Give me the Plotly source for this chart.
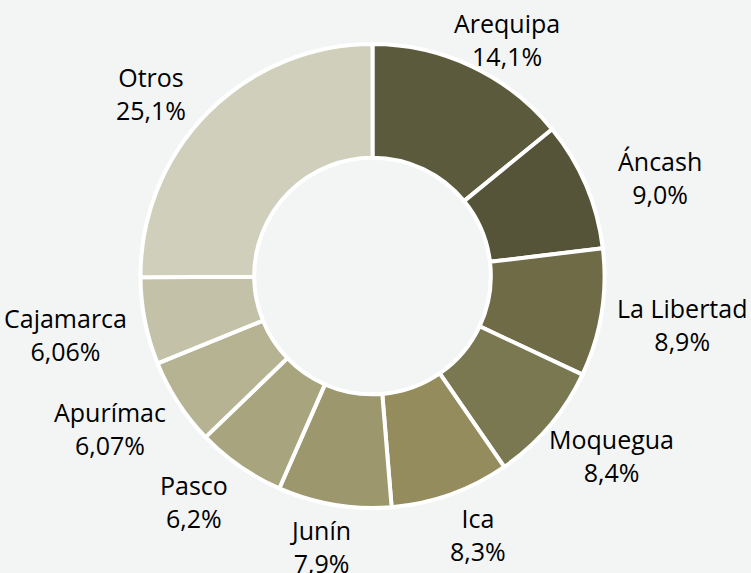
import math
import plotly.graph_objects as go

regiones = ["Arequipa", "Áncash", "La Libertad", "Moquegua", "Ica", "Junín",
            "Pasco", "Apurímac", "Cajamarca", "Otros"]
participacion = [14.1, 9.0, 8.9, 8.4, 8.3, 7.9, 6.2, 6.07, 6.06, 25.1]
etiquetas = ["14,1%", "9,0%", "8,9%", "8,4%", "8,3%", "7,9%", "6,2%", "6,07%", "6,06%", "25,1%"]
colores = ["#5C5A3C", "#565438", "#6E6B46", "#7A7850", "#948C5C", "#9C976C",
           "#A8A57E", "#B6B392", "#C3C1A8", "#D0CFBC"]

fondo = "#F3F5F5"
W, H = 751, 573
cx, cy, r = 372.5, 276, 232   # centro y radio del anillo en pixeles
ax_lab, ay_lab = 313, 268     # semiejes de la elipse donde van las etiquetas

fig = go.Figure(go.Pie(
    labels=regiones,
    values=participacion,
    textinfo="none",
    hole=0.51,
    sort=False,
    direction="clockwise",
    rotation=0,
    marker=dict(colors=colores, line=dict(color="white", width=4)),
    domain=dict(x=[(cx - r) / W, (cx + r) / W], y=[1 - (cy + r) / H, 1 - (cy - r) / H]),
    showlegend=False,
    customdata=etiquetas,
    hovertemplate="%{label}: %{customdata}<extra></extra>",
))

# etiquetas fuera del anillo, en el angulo medio de cada porcion
total = sum(participacion)
acum = 0
for reg, val, txt in zip(regiones, participacion, etiquetas):
    ang = 2 * math.pi * (acum + val / 2) / total
    acum += val
    px = cx + ax_lab * math.sin(ang)
    py = cy - ay_lab * math.cos(ang) + 6
    fig.add_annotation(
        x=px / W, y=1 - py / H, xref="paper", yref="paper",
        text=f"{reg}<br>{txt}", showarrow=False,
        xanchor="center", yanchor="middle",
        font=dict(family="Open Sans", size=25, color="black"),
    )

fig.update_layout(
    width=W, height=H,
    margin=dict(l=0, r=0, t=0, b=0),
    paper_bgcolor=fondo,
    plot_bgcolor=fondo,
)

fig.write_html("out.html", config={"displayModeBar": False},
               post_script="document.body.style.margin='0';")
